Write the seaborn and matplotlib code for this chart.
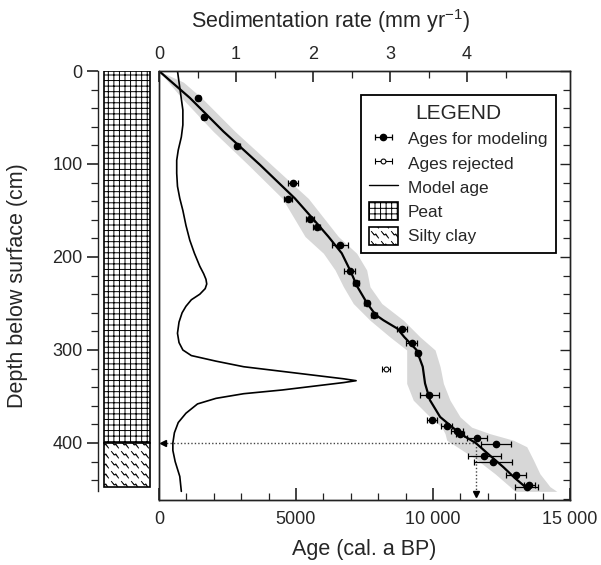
import warnings
import numpy as np
import matplotlib
matplotlib.use('Agg')
import matplotlib.pyplot as plt
import seaborn as sns
from matplotlib import hatch as mhatch
from matplotlib.path import Path
from matplotlib.patches import Rectangle, Patch
from matplotlib.lines import Line2D

warnings.filterwarnings('ignore')

# ---- data ----
# dated samples used for the age model: age (cal a BP), depth (cm), 1-sigma range
dated_age = [1435, 1640, 2860, 4880, 4720, 5510, 5755, 6605, 6970, 7190, 7580, 7850, 8860,
             9220, 9440, 9870, 9950, 10500, 10870, 10990, 11600, 12300, 11870, 12200,
             13030, 13420, 13520]
dated_depth = [29, 49, 81, 120, 138, 159, 168, 187, 215, 228, 249, 262, 277,
               293, 303, 348, 375, 382, 387, 390, 395, 401, 414, 420,
               434, 447, 445]
dated_err = [60, 60, 80, 180, 150, 150, 120, 290, 200, 120, 100, 120, 180,
             200, 100, 360, 180, 210, 210, 150, 360, 550, 600, 700,
             360, 420, 200]

# rejected sample
rejected_age = [8285]
rejected_depth = [320]
rejected_err = [150]

# model age curve
model_depth = [0, 29, 65, 101, 137, 160, 178, 196, 214, 232, 250, 262, 268, 277, 286, 300,
               318, 336, 354, 372, 390, 400, 413, 426, 438, 447]
model_age = [0, 1130, 2350, 3690, 4960, 5650, 6180, 6670, 6970, 7240, 7600, 7900, 8190, 8700,
             8950, 9400, 9625, 9710, 9890, 10260, 10990, 11560, 12060, 12570, 13000, 13360]

# confidence envelope of the model
band_depth = [0, 12, 29, 65, 101, 137, 178, 196, 214, 232, 250, 268, 286, 300, 318, 336, 354,
              372, 383, 390, 397, 404, 418, 433, 447, 452]
band_lo = [0, 340, 830, 1980, 3260, 4500, 5330, 6000, 6425, 6730, 7090, 7700, 8430, 9040, 9040,
           9040, 9280, 9890, 10320, 10440, 10500, 10870, 11600, 12260, 12810, 13000]
band_hi = [0, 890, 1560, 2775, 4110, 5450, 6545, 7215, 7580, 7700, 8130, 8920, 9530, 10075, 10260,
           10380, 10620, 10990, 11410, 12080, 12930, 13420, 13660, 13900, 14270, 14520]

# sedimentation rate (mm/yr) vs depth
sed_depth = [0, 12, 24, 42, 58, 71, 85, 96, 110, 124, 137, 150, 166, 182, 196, 210, 218, 224,
             229, 234, 240, 246, 253, 260, 270, 282, 292, 300, 306, 312, 318, 323, 328, 331,
             333, 335, 338, 343, 347, 352, 358, 368, 378, 389, 400, 408, 420, 436, 452]
sed_rate = [0.24, 0.26, 0.28, 0.31, 0.31, 0.29, 0.25, 0.23, 0.23, 0.24, 0.27, 0.31, 0.35, 0.40,
            0.46, 0.53, 0.58, 0.61, 0.62, 0.60, 0.53, 0.42, 0.35, 0.30, 0.26, 0.24, 0.26, 0.31,
            0.42, 0.74, 1.1, 1.6, 2.1, 2.4, 2.56, 2.4, 2.1, 1.6, 1.1, 0.74, 0.5, 0.35, 0.25,
            0.2, 0.18, 0.18, 0.21, 0.27, 0.29]

# lithology column
units = ['Peat', 'Silty clay']
unit_top = [0, 400]
unit_bottom = [400, 447]

boundary_depth = 400
boundary_age = 11560


# zigzag hatch for silty clay ('z')
class ZigzagHatch(mhatch.HatchPatternBase):
    def __init__(self, hatch, density):
        self.num_cells = hatch.count('z') * 10
        self.num_vertices = self.num_cells ** 2 * 4

    def set_vertices_and_codes(self, vertices, codes):
        n = self.num_cells
        step = 1.0 / n
        shape = np.array([[0.15, 0.85], [0.42, 0.5], [0.58, 0.6], [0.85, 0.2]])
        k = 0
        for i in range(n):
            for j in range(n):
                vertices[k:k + 4] = (shape + [j, i]) * step
                codes[k] = Path.MOVETO
                codes[k + 1:k + 4] = Path.LINETO
                k += 4


mhatch._hatch_types.append(ZigzagHatch)

sns.set_theme(style='ticks')
plt.rcParams['font.family'] = ['Liberation Sans', 'DejaVu Sans']
plt.rcParams['mathtext.default'] = 'regular'
plt.rcParams['hatch.linewidth'] = 0.7
plt.rcParams['axes.edgecolor'] = '#222222'
plt.rcParams['axes.linewidth'] = 1.0

W, H = 601, 565
fig = plt.figure(figsize=(W / 100, H / 100), dpi=100)
fig.patch.set_facecolor('white')

ax = fig.add_axes([159 / W, 65 / H, 411 / W, 429 / H])
ax_col = fig.add_axes([98 / W, 65 / H, 54 / W, 429 / H])
ax_top = ax.twiny()

ymax = 461.3

# envelope + model line
ax.fill_betweenx(band_depth, band_lo, band_hi, color='#d7d7d7', lw=0, zorder=1)
sns.lineplot(x=model_age, y=model_depth, orient='y', sort=False, estimator=None,
             color='black', lw=1.6, ax=ax, zorder=3, legend=False)

# dates
eb_used = ax.errorbar(dated_age, dated_depth, xerr=dated_err, fmt='o', color='black',
                      ms=4.5, elinewidth=0.9, capsize=2.2, capthick=0.9, zorder=4,
                      label='Ages for modeling')
eb_rej = ax.errorbar(rejected_age, rejected_depth, xerr=rejected_err, fmt='o', color='black',
                     mfc='white', ms=3.5, mew=0.8, elinewidth=0.8, capsize=2.2, capthick=0.8,
                     zorder=4, label='Ages rejected')

# boundary projection
ax.plot([150, boundary_age], [boundary_depth, boundary_depth], ls=(0, (1, 1.5)),
        color='#444444', lw=1, zorder=2)
ax.plot([boundary_age, boundary_age], [boundary_depth, 452], ls=(0, (1, 1.5)),
        color='#444444', lw=1, zorder=2)
ax.plot([130], [boundary_depth], marker='<', color='black', ms=5, zorder=5)
ax.plot([boundary_age], [455], marker='v', color='black', ms=5, zorder=5)

ax.set_xlim(0, 15000)
ax.set_ylim(ymax, 0)
ax.set_xticks([0, 5000, 10000, 15000])
ax.set_xticklabels(['0', '5000', '10 000', '15 000'])
ax.set_xticks(np.arange(0, 15001, 1000), minor=True)
ax.set_yticks(np.arange(0, 401, 100))
ax.set_yticks(np.arange(0, 461, 20), minor=True)
ax.tick_params(axis='x', which='both', direction='in', top=False, labelsize=13, pad=8,
               color='#222222')
ax.tick_params(axis='x', which='major', length=9, width=1.2)
ax.tick_params(axis='x', which='minor', length=5, width=0.9)
ax.tick_params(axis='y', which='both', direction='in', left=False, right=True,
               labelleft=False, labelright=False, color='#222222')
ax.tick_params(axis='y', which='major', length=7, width=1.0)
ax.tick_params(axis='y', which='minor', length=5, width=0.9)
ax.set_xlabel('Age (cal. a BP)', fontsize=15.5, va='top')
ax.xaxis.set_label_coords(0.5, -0.092)
ax.set_ylabel('')

# sedimentation rate on top axis
sns.lineplot(x=sed_rate, y=sed_depth, orient='y', sort=False, estimator=None,
             color='black', lw=1.2, ax=ax_top, legend=False)
ax_top.set_xlim(0, 411 / 77)
ax_top.set_ylim(ymax, 0)
ax_top.set_xticks([0, 1, 2, 3, 4])
ax_top.set_xticks(np.arange(0.5, 5, 0.5), minor=True)
ax_top.tick_params(axis='x', which='both', direction='in', labelsize=13, pad=6,
                   color='#222222')
ax_top.tick_params(axis='x', which='major', length=8, width=1.2)
ax_top.tick_params(axis='x', which='minor', length=5, width=0.9)
ax_top.set_xlabel('Sedimentation rate (mm yr$^{-1}$)', fontsize=15.5)
ax_top.xaxis.set_label_coords(0.418, 1.10)
ax_top.set_ylabel('')

# lithology column
ax_col.set_xlim(0, 1)
ax_col.set_ylim(ymax, 0)
hatches = ['+++', 'z']
for name, top, bot, hat in zip(units, unit_top, unit_bottom, hatches):
    ax_col.add_patch(Rectangle((0.111, top), 0.852, bot - top, facecolor='white',
                               edgecolor='black', hatch=hat, lw=1.2))
for s in ['top', 'right', 'bottom']:
    ax_col.spines[s].set_visible(False)
ax_col.spines['left'].set_bounds(0, 452)
ax_col.set_xticks([])
ax_col.set_yticks(np.arange(0, 401, 100))
ax_col.set_yticks(np.arange(0, 451, 20), minor=True)
ax_col.tick_params(axis='y', which='both', direction='out', labelsize=13, pad=3,
                   color='#222222')
ax_col.tick_params(axis='y', which='major', length=8, width=1.2)
ax_col.tick_params(axis='y', which='minor', length=5, width=0.9)
ax_col.set_ylabel('Depth below surface (cm)', fontsize=15.5)
ax_col.yaxis.set_label_coords(-1.3, 0.5)
ax_col.patch.set_alpha(0)

# legend
handles = [eb_used, eb_rej,
           Line2D([], [], color='black', lw=1),
           Patch(facecolor='white', edgecolor='black', hatch='+++', lw=1.2),
           Patch(facecolor='white', edgecolor='black', hatch='z', lw=1.2)]
labels = ['Ages for modeling', 'Ages rejected', 'Model age', 'Peat', 'Silty clay']
leg = ax_top.legend(handles, labels, title='LEGEND', loc='upper right',
                    bbox_to_anchor=((556 - 159) / 411, 1 - (95 - 71) / 429),
                    fontsize=12.4, title_fontsize=15, frameon=True, fancybox=False,
                    edgecolor='black', framealpha=1, handlelength=1.65,
                    handleheight=1.25, handletextpad=0.6, labelspacing=0.35,
                    borderpad=0.5, borderaxespad=0)
leg._legend_box.sep = 5
leg.get_frame().set_linewidth(1.3)

fig.savefig('out.png', dpi=100)
